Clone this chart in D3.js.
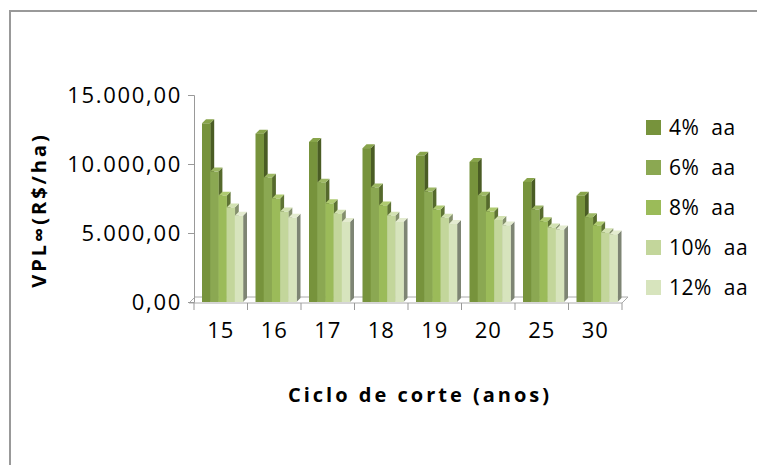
<!DOCTYPE html>
<html>
<head>
<meta charset="utf-8">
<script src="https://cdn.jsdelivr.net/npm/d3@7"></script>
<style>
  html, body { margin: 0; background: #fff; overflow: hidden; }
  svg { display: block; }
  text { font-family: "Open Sans", sans-serif; fill: #000; }
</style>
</head>
<body>
<div id="chart"></div>
<script>
// data
var categories = ["15", "16", "17", "18", "19", "20", "25", "30"];
var seriesNames = ["4%  aa", "6%  aa", "8%  aa", "10%  aa", "12%  aa"];
var v4  = [12950, 12200, 11600, 11150, 10600, 10150, 8700, 7700];
var v6  = [9450, 9000, 8650, 8300, 8000, 7700, 6700, 6150];
var v8  = [7700, 7500, 7150, 7000, 6700, 6550, 5850, 5550];
var v10 = [6850, 6550, 6400, 6250, 6100, 5950, 5400, 5050];
var v12 = [6250, 6100, 5800, 5800, 5650, 5550, 5250, 4900];
var yTicks = [0, 5000, 10000, 15000];

var series = [v4, v6, v8, v10, v12];
var frontCol = ["#77933C", "#8BA852", "#9BBB59", "#C3D69B", "#D7E4BD"];
var sideCol  = ["#4A5C24", "#55692C", "#5E7334", "#848F6C", "#7E8574"];
var topCol   = ["#88A44B", "#9DB864", "#AFCB70", "#D3E2B2", "#E4ECD0"];

var W = 757, H = 465;
var depth = 4;

var svg = d3.select("#chart").append("svg")
    .attr("width", W)
    .attr("height", H);

// outer frame (runs off the right and bottom edges)
svg.append("path")
    .attr("d", "M10," + (H + 5) + " L10,11 L" + (W + 5) + ",11")
    .attr("fill", "none")
    .attr("stroke", "#999")
    .attr("stroke-width", 2);

var x = d3.scaleBand().domain(categories).range([194, 622]).paddingInner(0).paddingOuter(0);
var x1 = d3.scaleBand().domain(d3.range(series.length)).range([8, 49]);
var y = d3.scaleLinear().domain([0, 15000]).range([302, 95]);

// floor
svg.append("path")
    .attr("d", "M189,303 L622,303 L628,297 L195,297 Z")
    .attr("fill", "#fff")
    .attr("stroke", "#aaa")
    .attr("stroke-width", 1);

// y axis on the back wall
var yAxis = svg.append("g")
    .attr("transform", "translate(194,0)")
    .call(d3.axisLeft(y).tickValues(yTicks).tickSize(6).tickPadding(6)
      .tickFormat(function(d) { return d3.format(",.2f")(d).replace(/,/g, "#").replace(".", ",").replace(/#/g, "."); }));
yAxis.select(".domain").attr("stroke", "#999");
yAxis.selectAll(".tick line").attr("stroke", "#999");
yAxis.selectAll(".tick text")
    .style("font-size", "22px")
    .style("letter-spacing", "1.7px")
    .attr("dy", "0.35em");

// x axis under the floor
var xAxis = svg.append("g")
    .attr("transform", "translate(0,303)")
    .call(d3.axisBottom(x).tickSize(0).tickPadding(19));
xAxis.select(".domain").remove();
xAxis.selectAll(".tick text").style("font-size", "22px").style("letter-spacing", "1px");
svg.append("g").selectAll("line")
    .data(categories.concat(["end"]))
    .join("line")
    .attr("x1", function(d, i) { return 194 + i * x.bandwidth(); })
    .attr("x2", function(d, i) { return 194 + i * x.bandwidth(); })
    .attr("y1", 303).attr("y2", 310)
    .attr("stroke", "#999");

// bars with a little 3D depth
var groups = svg.append("g").selectAll("g")
    .data(categories)
    .join("g")
    .attr("transform", function(d) { return "translate(" + x(d) + ",0)"; });

groups.each(function(cat, ci) {
  var g = d3.select(this);
  series.forEach(function(s, si) {
    var bx = x1(si), bw = x1.bandwidth(), by = y(s[ci]), bb = y(0);
    g.append("path")
      .attr("d", "M" + (bx + bw) + "," + by + " L" + (bx + bw + depth) + "," + (by - depth) +
           " L" + (bx + bw + depth) + "," + (bb - depth) + " L" + (bx + bw) + "," + bb + " Z")
      .attr("fill", sideCol[si]);
    g.append("path")
      .attr("d", "M" + bx + "," + by + " L" + (bx + depth) + "," + (by - depth) +
           " L" + (bx + bw + depth) + "," + (by - depth) + " L" + (bx + bw) + "," + by + " Z")
      .attr("fill", topCol[si]);
    g.append("rect")
      .attr("x", bx).attr("y", by)
      .attr("width", bw + 0.3).attr("height", bb - by)
      .attr("fill", frontCol[si]);
  });
});

// axis titles
svg.append("text")
    .attr("transform", "translate(46,210) rotate(-90)")
    .attr("text-anchor", "middle")
    .style("font-size", "20px")
    .style("font-weight", "bold")
    .style("letter-spacing", "3px")
    .text("VPL∞(R$/ha)");

svg.append("text")
    .attr("x", 420).attr("y", 402)
    .attr("text-anchor", "middle")
    .style("font-size", "20px")
    .style("font-weight", "bold")
    .style("letter-spacing", "3px")
    .text("Ciclo de corte (anos)");

// legend
var legend = svg.append("g").selectAll("g")
    .data(seriesNames)
    .join("g")
    .attr("transform", function(d, i) { return "translate(646," + (120 + i * 40) + ")"; });
legend.append("rect")
    .attr("width", 15).attr("height", 15)
    .attr("fill", function(d, i) { return frontCol[i]; });
legend.append("text")
    .attr("x", 23).attr("y", 8)
    .attr("dy", "0.35em")
    .style("font-size", "21px")
    .style("letter-spacing", "0.5px")
    .style("white-space", "pre")
    .text(function(d) { return d; });
</script>
</body>
</html>
